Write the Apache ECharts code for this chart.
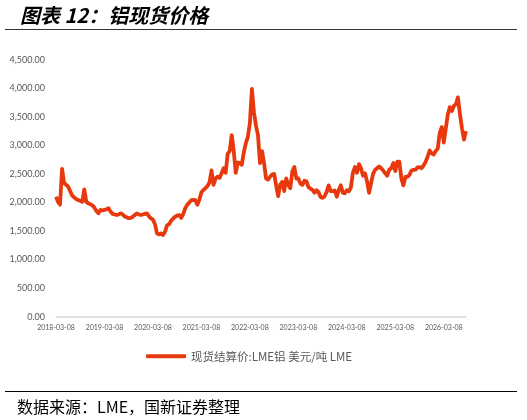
<!DOCTYPE html>
<html>
<head>
<meta charset="utf-8">
<script src="https://cdn.jsdelivr.net/npm/echarts@6/dist/echarts.min.js"></script>
<style>
html,body{margin:0;padding:0;background:#fff;}
#chart{width:527px;height:420px;}
</style>
</head>
<body>
<div id="chart"></div>
<script>
// Semi-monthly observations (8th and 23rd of each month) starting 2018-03-08
const startYear = 2018, startMonth = 3;
const seriesName = '现货结算价:LME铝 美元/吨 LME';
const tickLabels = ['2018-03-08','2019-03-08','2020-03-08','2021-03-08','2022-03-08','2023-03-08','2024-03-08','2025-03-08','2026-03-08'];
const yTicks = [0,500,1000,1500,2000,2500,3000,3500,4000,4500];

const prices2018 = [2100,2010,1960,2590,2340,2310,2280,2200,2120,2090,2060,2040,2030,2010,2230,2010,1985,1970,1950,1910,1850,1810,1870,1860];
const prices2019 = [1870,1880,1900,1840,1800,1790,1780,1790,1810,1790,1755,1740,1725,1730,1750,1780,1810,1790,1780,1790,1800,1810,1760,1720];
const prices2020 = [1700,1620,1460,1440,1460,1430,1490,1600,1620,1680,1720,1750,1770,1780,1730,1800,1900,1960,2000,2040,2045,2040,1960,2050];
const prices2021 = [2180,2220,2250,2290,2350,2560,2310,2420,2450,2430,2510,2600,2520,2850,2900,3180,2900,2520,2700,2690,2660,2880,3040,3150];
const prices2022 = [3390,3990,3580,3350,3180,2690,2900,2690,2420,2400,2450,2490,2500,2300,2110,2310,2360,2200,2420,2310,2250,2540,2620,2420];
const prices2023 = [2420,2330,2310,2380,2370,2270,2240,2220,2170,2215,2180,2095,2080,2110,2185,2300,2200,2200,2210,2100,2220,2300,2170,2160];
const prices2024 = [2215,2195,2260,2520,2620,2520,2670,2600,2470,2510,2370,2170,2340,2500,2570,2600,2630,2600,2560,2510,2470,2575,2600,2690];
const prices2025 = [2550,2715,2715,2420,2300,2450,2450,2480,2560,2570,2575,2615,2620,2600,2650,2710,2800,2910,2860,2840,2900,2940,3220,3320];
const prices2026 = [3050,3300,3540,3670,3600,3690,3720,3840,3550,3300,3100,3250];

const values = [].concat(prices2018,prices2019,prices2020,prices2021,prices2022,prices2023,prices2024,prices2025,prices2026);
const categories = values.map((v,j)=>{
  const m0 = startMonth - 1 + Math.floor(j/2);
  const y = startYear + Math.floor(m0/12);
  const m = (m0 % 12) + 1;
  return y + '-' + String(m).padStart(2,'0') + '-' + (j%2===0 ? '08' : '23');
});

const chart = echarts.init(document.getElementById('chart'), null, {renderer:'canvas'});
chart.setOption({
  animation:false,
  backgroundColor:'#fff',
  grid:{left:56,right:61,top:59.7,bottom:103.3,containLabel:false},
  xAxis:{
    type:'category',
    data:categories,
    boundaryGap:false,
    axisLine:{lineStyle:{color:'#D9D9D9',width:1.5}},
    axisTick:{show:false},
    axisLabel:{
      interval:(idx,val)=>tickLabels.indexOf(val)>=0,
      color:'#595959',fontSize:7,fontFamily:'Lato',margin:8
    },
    splitLine:{show:false}
  },
  yAxis:{
    type:'value',
    min:yTicks[0],max:yTicks[yTicks.length-1],interval:500,
    axisLine:{show:false},axisTick:{show:false},
    splitLine:{show:false},
    axisLabel:{
      color:'#595959',fontSize:9,fontFamily:'Lato',margin:11,
      formatter:v=>v.toLocaleString('en-US',{minimumFractionDigits:2,maximumFractionDigits:2})
    }
  },
  legend:{
    data:[seriesName],
    bottom:53,left:141,
    itemWidth:40,itemHeight:4,itemGap:4,
    icon:'roundRect',
    textStyle:{color:'#595959',fontSize:11.5,fontFamily:'Noto Sans CJK SC'}
  },
  series:[{
    name:seriesName,
    type:'line',
    data:values,
    showSymbol:false,
    symbol:'none',
    lineStyle:{color:'#E8390E',width:3.8,join:'round'},
    itemStyle:{color:'#E8390E'}
  }],
  graphic:[
    {type:'text',left:20,top:5,style:{text:'图表 12：铝现货价格',fontSize:20,fontWeight:'bold',fontStyle:'italic',fontFamily:'Noto Sans CJK SC',fill:'#000'}},
    {type:'line',shape:{x1:5,y1:29.5,x2:517,y2:29.5},style:{stroke:'#333',lineWidth:1}},
    {type:'line',shape:{x1:5,y1:391.5,x2:517,y2:391.5},style:{stroke:'#000',lineWidth:1}},
    {type:'text',left:17,top:399,style:{text:'数据来源：LME，国新证券整理',fontSize:16,fontFamily:'Noto Sans CJK SC',fill:'#000'}}
  ]
});
</script>
</body>
</html>
